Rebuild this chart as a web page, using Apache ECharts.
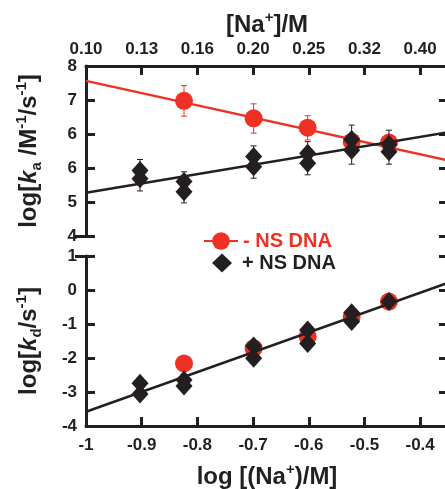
<!DOCTYPE html>
<html>
<head>
<meta charset="utf-8">
<script src="https://cdn.jsdelivr.net/npm/echarts@6/dist/echarts.min.js"></script>
<style>
html, body { margin: 0; padding: 0; background: #fff; }
#chart { width: 445px; height: 489px; }
</style>
</head>
<body>
<div id="chart"></div>
<script>
// x = log[Na+]/M for 0.125, 0.15, 0.20, 0.25, 0.30, 0.35 M
var RED = '#ee3124';
var BLK = '#231f20';
var FONT = '"Liberation Sans", Arial, sans-serif';
var NAME_RED = '- NS DNA';
var NAME_BLK = '+ NS DNA';

// top panel: log ka
var kaRed = [[-0.824, 7.18], [-0.699, 6.77], [-0.602, 6.55], [-0.523, 6.22], [-0.456, 6.20]];
var kaRedErr = [[-0.824, 6.82, 7.54], [-0.699, 6.42, 7.11], [-0.602, 6.26, 6.83]];
var kaBlack = [
    [-0.903, 5.54], [-0.903, 5.35],
    [-0.824, 5.28], [-0.824, 5.04],
    [-0.699, 5.87], [-0.699, 5.63],
    [-0.602, 5.95], [-0.602, 5.71],
    [-0.523, 6.27], [-0.523, 6.02],
    [-0.456, 6.16], [-0.456, 5.98]
];
var kaBlackErr = [
    [-0.903, 5.06, 5.80], [-0.824, 4.78, 5.51], [-0.699, 5.36, 6.12],
    [-0.602, 5.44, 6.22], [-0.523, 5.69, 6.61], [-0.456, 5.69, 6.49]
];
var kaRedFit = [[-1, 7.65], [-0.35, 5.78]];
var kaBlackFit = [[-1, 5.02], [-0.35, 6.44]];

// bottom panel: log kd
var kdRed = [[-0.824, -2.16], [-0.699, -1.71], [-0.602, -1.37], [-0.523, -0.79], [-0.456, -0.34]];
var kdBlack = [
    [-0.903, -2.74], [-0.903, -3.06],
    [-0.824, -2.65], [-0.824, -2.82],
    [-0.699, -1.65], [-0.699, -2.01],
    [-0.602, -1.18], [-0.602, -1.57],
    [-0.523, -0.67], [-0.523, -0.93],
    [-0.456, -0.34]
];
var kdFit = [[-1, -3.58], [-0.35, 0.21]];

var chart = echarts.init(document.getElementById('chart'));

function errorBar(color) {
    return function (params, api) {
        var hi = api.coord([api.value(0), api.value(2)]);
        var lo = api.coord([api.value(0), api.value(1)]);
        var w = 3;
        var st = { stroke: color, lineWidth: 1 };
        return {
            type: 'group',
            children: [
                { type: 'line', shape: { x1: hi[0], y1: hi[1], x2: lo[0], y2: lo[1] }, style: st },
                { type: 'line', shape: { x1: hi[0] - w, y1: hi[1], x2: hi[0] + w, y2: hi[1] }, style: st },
                { type: 'line', shape: { x1: lo[0] - w, y1: lo[1], x2: lo[0] + w, y2: lo[1] }, style: st }
            ]
        };
    };
}

var lbl = { color: BLK, fontSize: 17, fontWeight: 'bold', fontFamily: FONT };
var axLine = { show: true, onZero: false, lineStyle: { color: BLK, width: 3 } };
var tickIn = { show: true, inside: true, length: 9, lineStyle: { color: BLK, width: 3 } };
var richName = {
    i: { fontSize: 24, fontWeight: 'bold', fontStyle: 'italic', fontFamily: FONT, color: BLK },
    sub: { fontSize: 15, fontWeight: 'bold', fontFamily: FONT, color: BLK, verticalAlign: 'bottom' },
    sup: { fontSize: 15, fontWeight: 'bold', fontFamily: FONT, color: BLK, verticalAlign: 'top' }
};
var nameStyle = { fontSize: 24, fontWeight: 'bold', fontFamily: FONT, color: BLK, lineHeight: 30, rich: richName };

option = {
    animation: false,
    backgroundColor: '#fff',
    grid: [
        { left: 86, top: 66, width: 362, height: 170, outerBoundsMode: 'none' },
        { left: 86, top: 256, width: 362, height: 170, outerBoundsMode: 'none' }
    ],
    legend: [
        {
            data: [NAME_RED], left: 198, top: 226, itemWidth: 34, itemHeight: 22,
            selectedMode: false,
            textStyle: { color: RED, fontSize: 20, fontWeight: 'bold', fontFamily: FONT }
        },
        {
            data: [NAME_BLK], left: 207, top: 248, itemWidth: 20, itemHeight: 19,
            selectedMode: false,
            textStyle: { color: BLK, fontSize: 20, fontWeight: 'bold', fontFamily: FONT, padding: [0, 0, 0, 5] }
        }
    ],
    xAxis: [
        {
            gridIndex: 0, type: 'value', position: 'top', min: -1, max: -0.35, interval: 0.1,
            axisLine: axLine, axisTick: tickIn, splitLine: { show: false },
            axisLabel: Object.assign({ margin: 8, showMaxLabel: false, formatter: function (v) { return Math.pow(10, v).toFixed(2); } }, lbl),
            name: '[Na{sup|+}]/M', nameLocation: 'middle', nameGap: 11,
            nameTextStyle: nameStyle
        },
        {
            gridIndex: 1, type: 'value', position: 'bottom', min: -1, max: -0.35, interval: 0.1,
            axisLine: axLine, axisTick: tickIn, splitLine: { show: false },
            axisLabel: Object.assign({ margin: 11, showMaxLabel: false }, lbl),
            name: 'log [(Na{sup|+})/M]', nameLocation: 'middle', nameGap: 36,
            nameTextStyle: nameStyle
        }
    ],
    yAxis: [
        {
            gridIndex: 0, type: 'value', position: 'left', min: 4, max: 8, interval: 0.8,
            axisLine: axLine, axisTick: tickIn, splitLine: { show: false },
            axisLabel: Object.assign({ margin: 9, formatter: function (v) { return Math.round(v); } }, lbl),
            name: 'log[{i|k}{sub|a} /M{sup|-1}/s{sup|-1}]', nameLocation: 'middle', nameGap: 42, nameRotate: 90,
            nameTextStyle: nameStyle
        },
        {
            gridIndex: 0, type: 'value', position: 'right', min: 4, max: 8, interval: 0.8,
            axisLine: axLine, axisTick: tickIn, splitLine: { show: false }, axisLabel: { show: false }
        },
        {
            gridIndex: 0, type: 'value', position: 'left', min: 4, max: 8,
            axisLine: { show: false }, splitLine: { show: false }, axisLabel: { show: false },
            axisTick: { show: true, inside: false, length: 11, customValues: [4], lineStyle: { color: BLK, width: 3 } }
        },
        {
            gridIndex: 1, type: 'value', position: 'left', min: -4, max: 1, interval: 1,
            axisLine: axLine, axisTick: tickIn, splitLine: { show: false },
            axisLabel: Object.assign({ margin: 9 }, lbl),
            name: 'log[{i|k}{sub|d}/s{sup|-1}]', nameLocation: 'middle', nameGap: 42, nameRotate: 90,
            nameTextStyle: nameStyle
        },
        {
            gridIndex: 1, type: 'value', position: 'right', min: -4, max: 1, interval: 1,
            axisLine: axLine, axisTick: tickIn, splitLine: { show: false }, axisLabel: { show: false }
        },
        {
            gridIndex: 1, type: 'value', position: 'left', min: -4, max: 1,
            axisLine: { show: false }, splitLine: { show: false }, axisLabel: { show: false },
            axisTick: { show: true, inside: false, length: 11, customValues: [1], lineStyle: { color: BLK, width: 3 } }
        }
    ],
    series: [
        // red fit line first so the legend icon is line + circle
        {
            name: NAME_RED, type: 'line', xAxisIndex: 0, yAxisIndex: 0, data: kaRedFit,
            symbol: 'none', lineStyle: { color: RED, width: 2.5 }, itemStyle: { color: RED }, z: 2
        },
        {
            name: 'kaRedErr', type: 'custom', xAxisIndex: 0, yAxisIndex: 0, data: kaRedErr,
            renderItem: errorBar(RED), encode: { x: 0, y: [1, 2] }, z: 3
        },
        {
            name: NAME_RED, type: 'scatter', xAxisIndex: 0, yAxisIndex: 0, data: kaRed,
            symbol: 'circle', symbolSize: 18, itemStyle: { color: RED, opacity: 1 }, z: 4
        },
        {
            name: 'kaBlackFit', type: 'line', xAxisIndex: 0, yAxisIndex: 0, data: kaBlackFit,
            symbol: 'none', lineStyle: { color: BLK, width: 2.5 }, z: 5
        },
        {
            name: 'kaBlackErr', type: 'custom', xAxisIndex: 0, yAxisIndex: 0, data: kaBlackErr,
            renderItem: errorBar(BLK), encode: { x: 0, y: [1, 2] }, z: 6
        },
        {
            name: NAME_BLK, type: 'scatter', xAxisIndex: 0, yAxisIndex: 0, data: kaBlack,
            symbol: 'diamond', symbolSize: [17, 19], itemStyle: { color: BLK, opacity: 1 }, z: 7
        },
        {
            name: NAME_RED, type: 'scatter', xAxisIndex: 1, yAxisIndex: 3, data: kdRed,
            symbol: 'circle', symbolSize: 18, itemStyle: { color: RED, opacity: 1 }, z: 4
        },
        {
            name: 'kdFit', type: 'line', xAxisIndex: 1, yAxisIndex: 3, data: kdFit,
            symbol: 'none', lineStyle: { color: BLK, width: 2.5 }, z: 5
        },
        {
            name: NAME_BLK, type: 'scatter', xAxisIndex: 1, yAxisIndex: 3, data: kdBlack,
            symbol: 'diamond', symbolSize: [17, 19], itemStyle: { color: BLK, opacity: 1 }, z: 7
        }
    ]
};
chart.setOption(option);
</script>
</body>
</html>
